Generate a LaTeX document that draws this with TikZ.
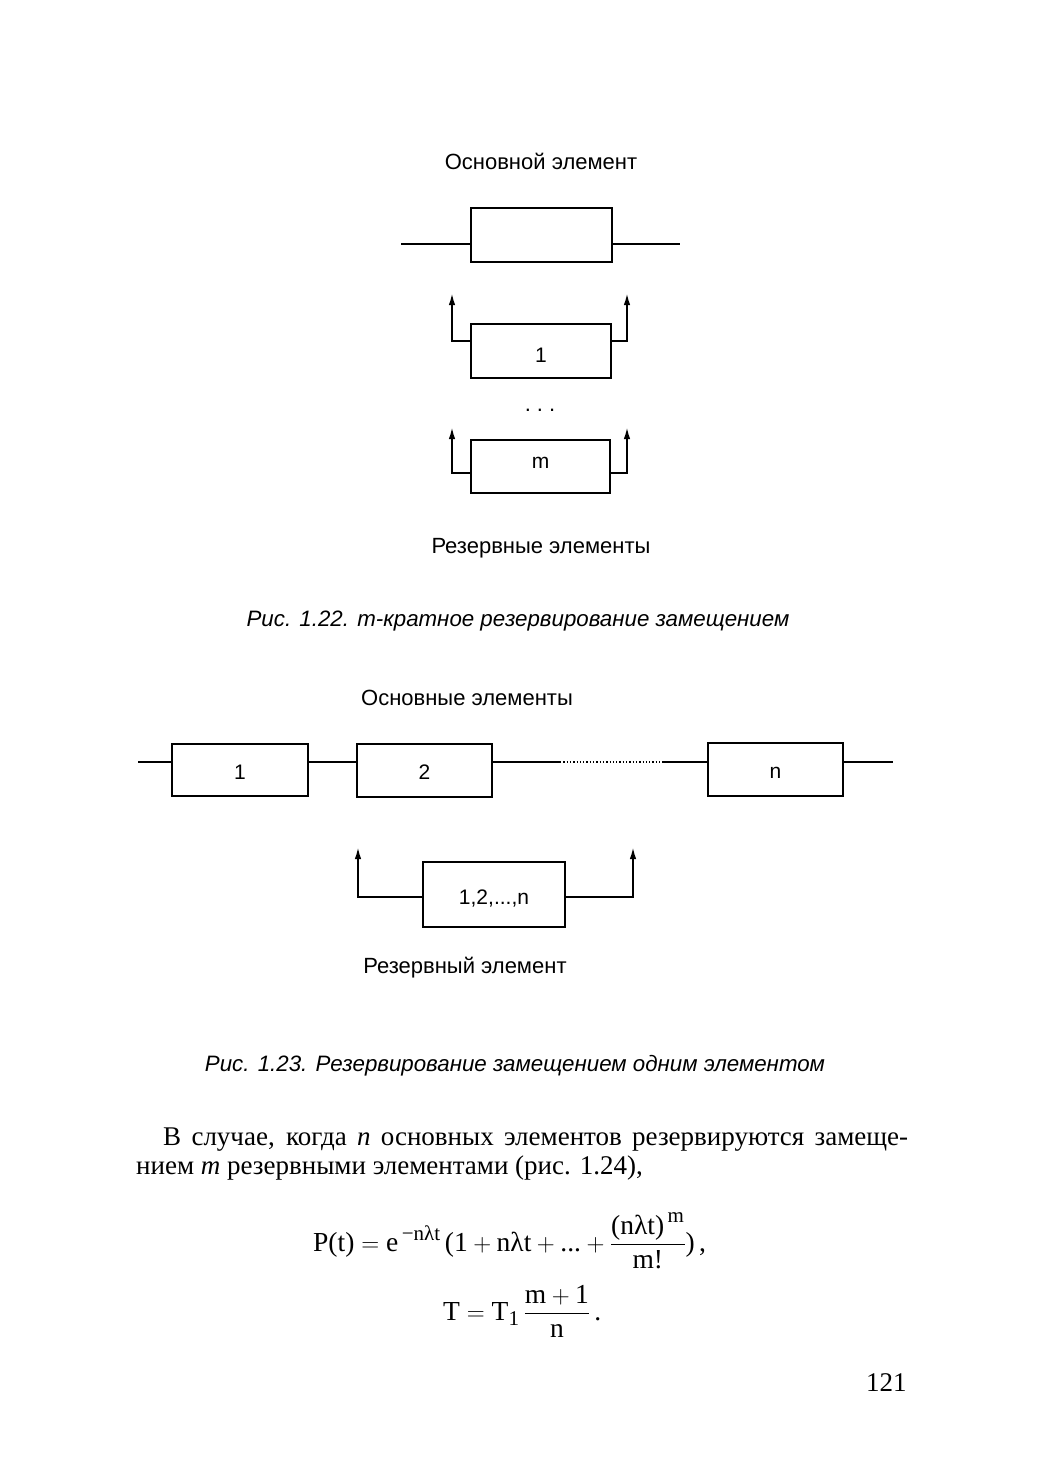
\documentclass[tikz,border=0pt]{standalone}
\usepackage{amsmath}
\usepackage{fontspec}
\setmainfont{Liberation Serif}
\newfontfamily\lsans{Liberation Sans}
\usetikzlibrary{arrows.meta}
\newcommand{\supt}[1]{\text{\fontsize{21}{23}\selectfont #1}}
\begin{document}
\begin{tikzpicture}[x=1pt,y=-1pt,
  blk/.style={draw,line width=1.9pt,inner sep=0pt,text depth=0pt,font=\lsans\fontsize{21}{24}\selectfont},
  wire/.style={line width=1.9pt},
  arr/.style={line width=1.9pt,-{Latex[length=12pt,width=6.5pt]}},
  lbl/.style={font=\lsans\fontsize{22}{26}\selectfont,inner sep=0pt},
  figcap/.style={font=\lsans\itshape\fontsize{22.3}{26}\selectfont,inner sep=0pt},
  body/.style={font=\fontsize{27}{31}\selectfont,inner sep=0pt,anchor=base west}]
\useasboundingbox (0,0) rectangle (1043,1465);

% ---------- Fig. 1.22 ----------
\node[lbl] (t1) at (541,161) {Основной элемент};
\node[blk,minimum width=141pt,minimum height=54pt] (main) at (541.5,235) {};
\coordinate (ml) at (401,244);
\coordinate (mr) at (680,244);
\draw[wire] (ml) -- (main.west |- ml);
\draw[wire] (main.east |- mr) -- (mr);

\node[blk,minimum width=140pt,minimum height=54pt,text height=23pt] (r1) at (541,351) {1};
\coordinate (r1l) at (452,293);
\coordinate (r1r) at (627,293);
\draw[arr] (r1.west |- 0,341) -| (r1l);
\draw[arr] (r1.east |- 0,341) -| (r1r);

\node[lbl] (dots) at (540,410) {.\hspace{6pt}.\hspace{6pt}.};

\node[blk,minimum width=139pt,minimum height=53pt,text height=3pt] (rm) at (540.5,466.5) {m};
\coordinate (rml) at (452,427);
\coordinate (rmr) at (627,427);
\draw[arr] (rm.west |- 0,473) -| (rml);
\draw[arr] (rm.east |- 0,473) -| (rmr);

\node[lbl] (t2) at (541,548) {Резервные элементы};
\node[figcap] (c1) at (518,621) {Рис. 1.22. \textit{m}-кратное резервирование замещением};

% ---------- Fig. 1.23 ----------
\node[lbl] (t3) at (467,698) {Основные элементы};
\node[blk,minimum width=136pt,minimum height=52pt,text height=19pt] (e1) at (240,770) {1};
\node[blk,minimum width=135pt,minimum height=53pt,text height=18pt] (e2) at (424.5,770.5) {2};
\node[blk,minimum width=135pt,minimum height=53pt,text height=17pt] (en) at (775.5,769.5) {n};
\coordinate (il) at (138,762);
\coordinate (ir) at (893,762);
\coordinate (d1) at (560,762);
\coordinate (d2) at (662,762);
\draw[wire] (il) -- (e1.west |- il);
\draw[wire] (e1.east |- il) -- (e2.west |- il);
\draw[wire] (e2.east |- il) -- (d1);
\draw[line width=1.3pt,dotted] (d1) -- (d2);
\draw[wire] (d2) -- (en.west |- il);
\draw[wire] (en.east |- ir) -- (ir);

\node[blk,minimum width=142pt,minimum height=65pt,text height=20pt] (rs) at (494,894.5) {1,2,...,n};
\coordinate (rsl) at (358,847);
\coordinate (rsr) at (633,847);
\draw[arr] (rs.west |- 0,897) -| (rsl);
\draw[arr] (rs.east |- 0,897) -| (rsr);

\node[lbl] (t4) at (465,968) {Резервный элемент};
\node[figcap] (c2) at (515,1066) {Рис. 1.23. Резервирование замещением одним элементом};

% ---------- text ----------
\node[body] (p1) at (163,1145) {\makebox[745pt][s]{В случае, когда \textit{n} основных элементов резервируются замеще-}};
\node[body] (p2) at (136,1174) {нием \textit{m} резервными элементами (рис. 1.24),};

\node[body,font=\fontsize{27.5}{31}\selectfont] (f1) at (313,1251) {$\displaystyle \text{P(t)} = \text{e}^{\,\supt{−nλt}}\,\text{(1} + \text{nλt} + \text{...} + \frac{\text{(nλt)}^{\,\supt{m}}}{\text{m!}}\text{)}\,\text{,}$};
\node[body,font=\fontsize{27.5}{31}\selectfont] (f2) at (443,1320) {$\displaystyle \text{T} = \text{T}_{\supt{1}}\,\frac{\text{m} + \text{1}}{\text{n}}\,\text{.}$};

\node[body] (pg) at (866,1391) {121};
\end{tikzpicture}
\end{document}
